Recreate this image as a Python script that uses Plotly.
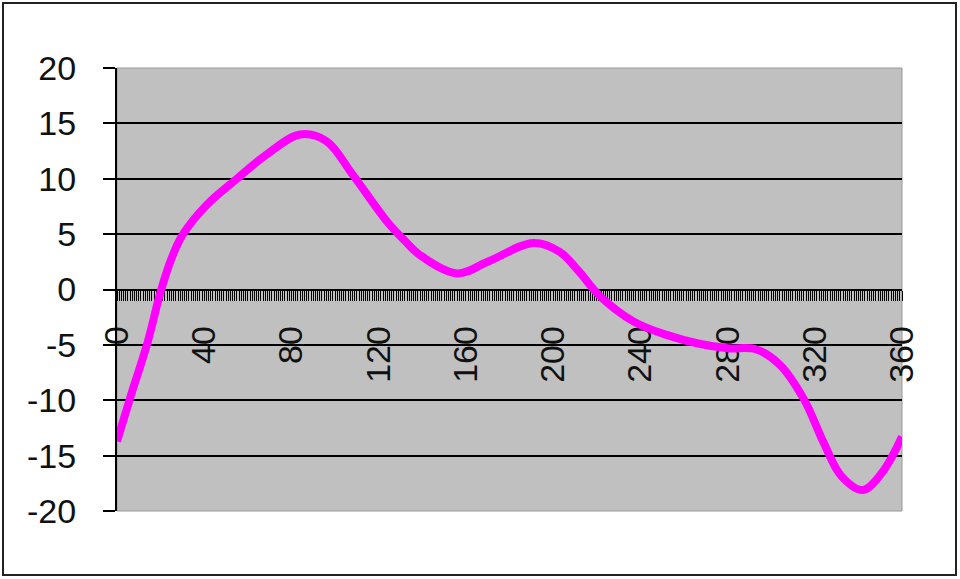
import plotly.graph_objects as go

# Data (degrees -> value)
angle_deg = [0, 6, 14, 20, 25, 30, 41, 55, 68, 84, 96, 108, 124, 132, 139, 156,
             170, 191, 203, 212, 221, 237, 252, 267, 280, 293, 304, 315, 324,
             332, 342, 351, 360]
values = [-13.7, -9.8, -4.8, -0.2, 2.8, 4.9, 7.6, 10.0, 12.1, 14.0, 13.4, 10.4,
          6.1, 4.4, 3.1, 1.45, 2.5, 4.2, 3.4, 1.6, -0.5, -2.9, -4.1, -4.9, -5.3,
          -5.4, -6.8, -9.9, -13.8, -16.8, -18.1, -16.5, -13.3]

x_ticks = [0, 40, 80, 120, 160, 200, 240, 280, 320, 360]
y_ticks = [-20, -15, -10, -5, 0, 5, 10, 15, 20]

fig = go.Figure()
fig.add_trace(go.Scatter(
    x=angle_deg, y=values, mode="lines",
    line=dict(color="#FF00FF", width=8, shape="spline", smoothing=1.0),
    hoverinfo="skip", showlegend=False,
))

W, H = 960, 579
L, R, T, B = 117, 58, 68, 68
pw, ph = W - L - R, H - T - B

def px_x(p):
    return (p - L) / pw

def px_y(p):
    return (H - B - p) / ph

fig.update_layout(
    width=W, height=H,
    margin=dict(l=L, r=R, t=T, b=B, pad=0),
    paper_bgcolor="white",
    plot_bgcolor="#C0C0C0",
    font=dict(family="Liberation Sans, Arial", size=34, color="#111111"),
    showlegend=False,
    xaxis=dict(
        range=[0, 360],
        tickmode="array", tickvals=x_ticks, ticktext=[str(v) for v in x_ticks],
        tickangle=-90,
        ticks="outside", ticklen=10, tickwidth=1, tickcolor="black",
        minor=dict(dtick=1, tick0=0, ticks="outside", ticklen=10, tickwidth=1,
                   tickcolor="black", showgrid=False),
        showline=True, linecolor="black", linewidth=2,
        showgrid=False, zeroline=False,
        anchor="free", position=0.5,
        ticklabelstandoff=12,
        layer="below traces",
    ),
    yaxis=dict(
        range=[-20, 20],
        tickmode="array", tickvals=y_ticks, ticktext=[str(v) for v in y_ticks],
        ticks="outside", ticklen=12, tickwidth=2, tickcolor="black",
        showline=True, linecolor="black", linewidth=2,
        showgrid=True, gridcolor="black", gridwidth=2,
        zeroline=False,
        ticklabelstandoff=20,
    ),
    shapes=[
        dict(type="rect", xref="paper", yref="paper",
             x0=0, x1=1, y0=0, y1=1,
             line=dict(color="#9a9a9a", width=1), layer="below"),
        dict(type="rect", xref="paper", yref="paper",
             x0=px_x(3), x1=px_x(956), y0=px_y(575), y1=px_y(3),
             line=dict(color="#222222", width=2)),
    ],
)

fig.write_html(
    "out.html",
    config={"displayModeBar": False},
    post_script="document.body.style.margin='0';document.body.style.overflow='hidden';",
)
